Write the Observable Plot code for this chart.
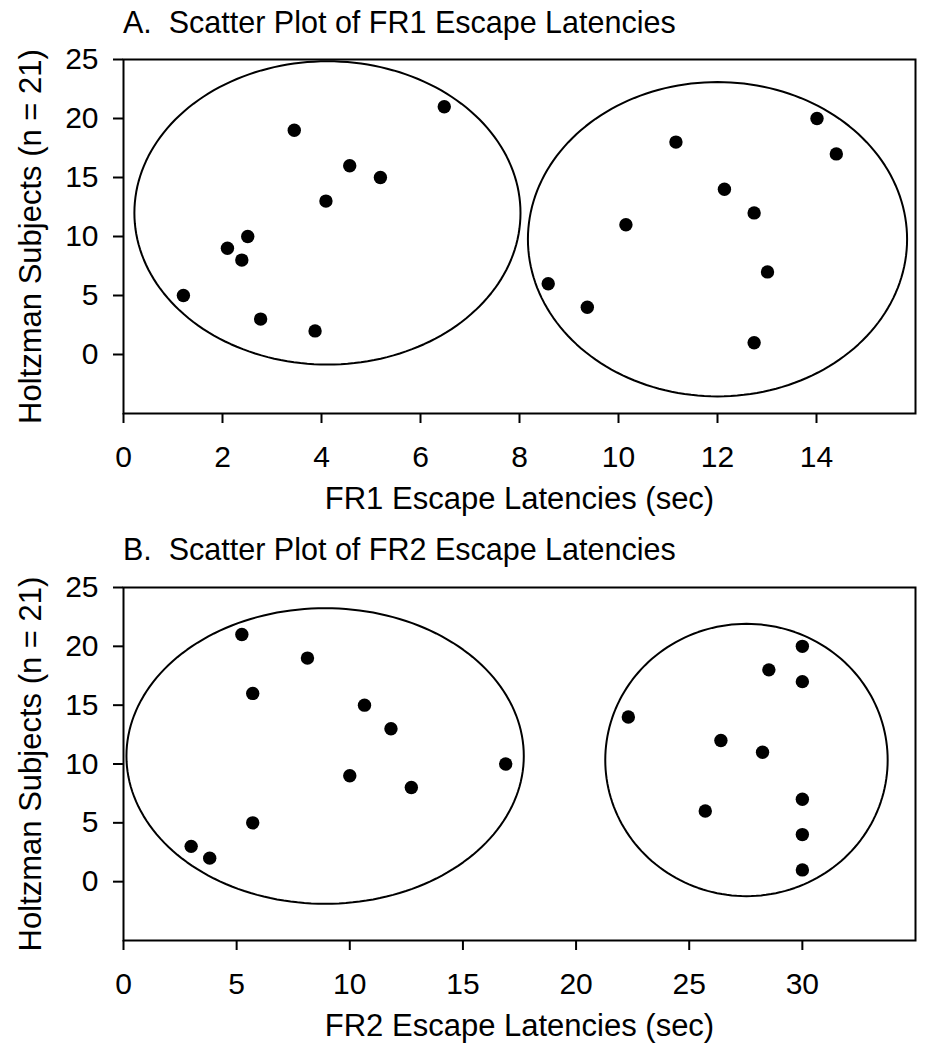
<!DOCTYPE html>
<html><head><meta charset="utf-8">
<script src="https://cdn.jsdelivr.net/npm/d3@7"></script>
<script src="https://cdn.jsdelivr.net/npm/@observablehq/plot@0.6"></script>
<style>
body{margin:0;background:#fff;}
#wrap{position:relative;width:938px;height:1050px;overflow:hidden;}
.title{position:absolute;left:123px;font-family:'Liberation Sans',Arial,sans-serif;font-size:30.5px;white-space:pre;line-height:30px;color:#000;}
.panel{position:absolute;left:0;}
</style></head><body>
<div id="wrap"></div>
<script>
// Subjects (y values)
const subjects = [1,2,3,4,5,6,7,8,9,10,11,12,13,14,15,16,17,18,19,20,21];
// FR1 escape latencies (sec), by subject 1..21
const fr1Latency = [12.74,3.87,2.77,9.37,1.21,8.58,13.01,2.39,2.10,2.51,10.15,12.74,4.09,12.14,5.19,4.57,14.40,11.16,3.45,14.01,6.48];
// FR2 escape latencies (sec), by subject 1..21
const fr2Latency = [30,3.81,2.99,30,5.71,25.71,30,12.72,10.0,16.89,28.24,26.4,11.82,22.31,10.65,5.71,30,28.52,8.13,30,5.23];

const yTicks = [0,5,10,15,20,25];
const fr1Ticks = [0,2,4,6,8,10,12,14];
const fr2Ticks = [0,5,10,15,20,25,30];

// Grouping ellipses (data units): centre and radii
const fr1EllipseCx = [4.12, 12.0];
const fr1EllipseCy = [12.0, 9.77];
const fr1EllipseRx = [3.9, 3.83];
const fr1EllipseRy = [12.85, 13.32];
const fr2EllipseCx = [8.91, 27.53];
const fr2EllipseCy = [10.68, 10.34];
const fr2EllipseRx = [8.78, 6.24];
const fr2EllipseRy = [12.56, 11.57];

const titles = ["A.  Scatter Plot of FR1 Escape Latencies", "B.  Scatter Plot of FR2 Escape Latencies"];
const xLabels = ["FR1 Escape Latencies (sec)", "FR2 Escape Latencies (sec)"];
const yLabel = "Holtzman Subjects (n = 21)";

function ellipseOutline(cx, cy, rx, ry) {
  const pts = [];
  cx.forEach((c, k) => {
    for (let i = 0; i < 180; i++) {
      const t = (i / 180) * 2 * Math.PI;
      pts.push({id: k, x: c + rx[k] * Math.cos(t), y: cy[k] + ry[k] * Math.sin(t)});
    }
  });
  return pts;
}

const FONT = "'Liberation Sans', Arial, sans-serif";

function panel(latency, xDomain, xTicks, xLabel, ell, height, marginTop, marginBottom) {
  const data = subjects.map((s, i) => ({subject: s, latency: latency[i]}));
  return Plot.plot({
    width: 938,
    height,
    marginLeft: 123,
    marginRight: 23,
    marginTop,
    marginBottom,
    x: {domain: xDomain},
    y: {domain: [-5, 25]},
    style: {fontFamily: FONT, fontSize: "30px", background: "transparent", overflow: "visible", color: "#000"},
    marks: [
      Plot.frame({stroke: "#000", strokeWidth: 2}),
      Plot.line(ell, {x: "x", y: "y", z: "id", curve: "linear-closed", stroke: "#000", strokeWidth: 2}),
      Plot.dot(data, {x: "latency", y: "subject", r: 6.7, fill: "#000", stroke: "none"}),
      Plot.axisX({ticks: xTicks, tickSize: 10, tickPadding: 22, strokeWidth: 2, label: null, fontSize: 30}),
      Plot.axisY({ticks: yTicks, tickSize: 10, tickPadding: 15, strokeWidth: 2, label: null, fontSize: 30}),
      Plot.text([xLabel], {frameAnchor: "bottom", lineAnchor: "bottom", textAnchor: "middle", dy: 95, fontSize: 31}),
      Plot.text([yLabel], {frameAnchor: "left", lineAnchor: "bottom", textAnchor: "middle", rotate: -90, dx: -83, fontSize: 31})
    ]
  });
}

const wrap = document.getElementById("wrap");

const tA = document.createElement("div");
tA.className = "title"; tA.style.top = "7px"; tA.textContent = titles[0];
const tB = document.createElement("div");
tB.className = "title"; tB.style.top = "534px"; tB.textContent = titles[1];

const pA = panel(fr1Latency, [0, 16], fr1Ticks, xLabels[0],
  ellipseOutline(fr1EllipseCx, fr1EllipseCy, fr1EllipseRx, fr1EllipseRy), 527, 59, 114);
pA.classList.add("panel"); pA.style.top = "0px";
const pB = panel(fr2Latency, [0, 35], fr2Ticks, xLabels[1],
  ellipseOutline(fr2EllipseCx, fr2EllipseCy, fr2EllipseRx, fr2EllipseRy), 523, 60, 110);
pB.classList.add("panel"); pB.style.top = "527px";

wrap.appendChild(pA);
wrap.appendChild(pB);
wrap.appendChild(tA);
wrap.appendChild(tB);
</script>
</body></html>
